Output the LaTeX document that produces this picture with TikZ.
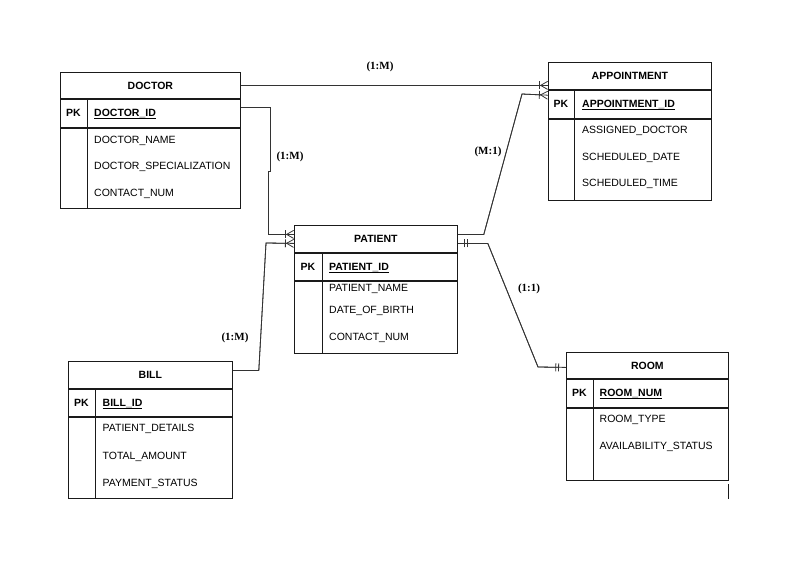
\documentclass[tikz,border=0pt]{standalone}
\usepackage{fontspec}
\setmainfont{Liberation Sans}
\newfontfamily\cardfont{Liberation Serif}
\usepackage{tikz}
\usetikzlibrary{arrows.meta,positioning}
\definecolor{ink}{HTML}{1A1A1A}
\definecolor{wire}{HTML}{333333}
\newcommand{\keyul}[1]{\underline{\smash{#1}}}
\tikzset{
  ent/.style     = {rectangle, draw=ink, line width=0.8pt, inner sep=0pt, anchor=north west,
                    font=\fontsize{10.5}{12}\selectfont\bfseries},
  rule/.style    = {draw=ink, line width=0.8pt},
  cell/.style    = {inner sep=0pt, text height=7.5pt, text depth=0pt},
  pkmark/.style  = {cell, font=\fontsize{10.5}{12}\selectfont\bfseries},
  keyname/.style = {cell, anchor=west, font=\fontsize{10.5}{12}\selectfont\bfseries},
  attr/.style    = {cell, anchor=west, font=\fontsize{10.5}{12}\selectfont},
  card/.style    = {inner sep=0pt, font=\cardfont\fontsize{11}{13}\selectfont\bfseries},
  link/.style    = {draw=wire, line width=0.8pt, postaction={draw, -, shorten <=0pt, shorten >=0pt}},
  many/.style    = {-{Bar[width=8pt] Straight Barb[reversed, length=7pt, width=8pt]}},
  one/.style     = {{Bar[width=8pt, sep=2pt] Bar[width=8pt, sep=2pt]}-{Bar[width=8pt, sep=2pt] Bar[width=8pt]},
                    shorten <=4pt, shorten >=7pt},
}
\begin{document}
\begin{tikzpicture}[x=1pt, y=-1pt]
  \useasboundingbox (0,0) rectangle (799,565);

  % DOCTOR
  \node[ent, minimum width=180pt, minimum height=26pt] (doctor) at (60,72) {DOCTOR};
  \node[ent, minimum width=180pt, minimum height=28pt] (doctorpk) at (doctor.south west) {};
  \node[ent, minimum width=180pt, minimum height=80pt] (doctorattr) at (doctorpk.south west) {};
  \draw[rule] ([xshift=27pt]doctorpk.north west) -- ([xshift=27pt]doctorattr.south west);
  \node[pkmark] at ([xshift=13.5pt]doctorpk.west) {PK};
  \node[keyname] (doctorid) at ([xshift=34pt]doctorpk.west) {\keyul{DOCTOR\_ID}};
  \node[attr] at (94,140) {DOCTOR\_NAME};
  \node[attr] at (94,166) {DOCTOR\_SPECIALIZATION};
  \node[attr] at (94,193) {CONTACT\_NUM};

  % APPOINTMENT
  \node[ent, minimum width=163pt, minimum height=27pt] (appt) at (548,62) {APPOINTMENT};
  \node[ent, minimum width=163pt, minimum height=28pt] (apptpk) at (appt.south west) {};
  \node[ent, minimum width=163pt, minimum height=81pt] (apptattr) at (apptpk.south west) {};
  \draw[rule] ([xshift=26pt]apptpk.north west) -- ([xshift=26pt]apptattr.south west);
  \node[pkmark] at ([xshift=13pt]apptpk.west) {PK};
  \node[keyname] (apptid) at ([xshift=34pt]apptpk.west) {\keyul{APPOINTMENT\_ID}};
  \node[attr] at (582,130) {ASSIGNED\_DOCTOR};
  \node[attr] at (582,157) {SCHEDULED\_DATE};
  \node[attr] at (582,183) {SCHEDULED\_TIME};

  % PATIENT
  \node[ent, minimum width=163pt, minimum height=27pt] (patient) at (294,225) {PATIENT};
  \node[ent, minimum width=163pt, minimum height=27pt] (patientpk) at (patient.south west) {};
  \node[ent, minimum width=163pt, minimum height=72pt] (patientattr) at (patientpk.south west) {};
  \draw[rule] ([xshift=28pt]patientpk.north west) -- ([xshift=28pt]patientattr.south west);
  \node[pkmark] at ([xshift=14pt]patientpk.west) {PK};
  \node[keyname] (patientid) at ([xshift=35pt]patientpk.west) {\keyul{PATIENT\_ID}};
  \node[attr] at (329,288) {PATIENT\_NAME};
  \node[attr] at (329,310) {DATE\_OF\_BIRTH};
  \node[attr] at (329,337) {CONTACT\_NUM};

  % BILL
  \node[ent, minimum width=164pt, minimum height=27pt] (bill) at (68,361) {BILL};
  \node[ent, minimum width=164pt, minimum height=27pt] (billpk) at (bill.south west) {};
  \node[ent, minimum width=164pt, minimum height=81pt] (billattr) at (billpk.south west) {};
  \draw[rule] ([xshift=27pt]billpk.north west) -- ([xshift=27pt]billattr.south west);
  \node[pkmark] at ([xshift=13.5pt]billpk.west) {PK};
  \node[keyname] (billid) at ([xshift=34.5pt]billpk.west) {\keyul{BILL\_ID}};
  \node[attr] at (102.5,428) {PATIENT\_DETAILS};
  \node[attr] at (102.5,456) {TOTAL\_AMOUNT};
  \node[attr] at (102.5,483) {PAYMENT\_STATUS};

  % ROOM
  \node[ent, minimum width=162pt, minimum height=26pt] (room) at (566,352) {ROOM};
  \node[ent, minimum width=162pt, minimum height=28pt] (roompk) at (room.south west) {};
  \node[ent, minimum width=162pt, minimum height=72pt] (roomattr) at (roompk.south west) {};
  \draw[rule] ([xshift=27pt]roompk.north west) -- ([xshift=27pt]roomattr.south west);
  \node[pkmark] at ([xshift=13.5pt]roompk.west) {PK};
  \node[keyname] (roomnum) at ([xshift=33.5pt]roompk.west) {\keyul{ROOM\_NUM}};
  \node[attr] at (599.5,419) {ROOM\_TYPE};
  \node[attr] at (599.5,446) {AVAILABILITY\_STATUS};
  \draw[rule] ([yshift=-4pt]roomattr.south east) -- ++(0,15);

  % relationships
  \draw[link, many] (doctor.east) -- (doctor.east -| appt.west);
  \draw[link, many] ([yshift=6pt]doctorpk.east) -- ++(30,0) -- ++(0,64) -- ++(-2,0) |- ([yshift=4.5pt]patient.west);
  \draw[link, many] ([yshift=4.5pt]patient.east) -- ++(26,0) -- (522,94) -- ([yshift=9pt]apptpk.west);
  \draw[link, many] ([yshift=4.5pt]bill.east) -- ++(26,0) -- (266,243) -- ([yshift=-4.5pt]patient.west);
  \draw[link, one] ([yshift=-4.5pt]patient.east) -- ++(30,0) -- (538,367) -- ([yshift=-2pt]room.west);

  \node[card] (docappt) at (380,67) {(1:M)};
  \node[card] (docpat) at (290,157) {(1:M)};
  \node[card] (patappt) at (488,152) {(M:1)};
  \node[card] (patroom) at (529,289) {(1:1)};
  \node[card] (billpat) at (235,338) {(1:M)};
\end{tikzpicture}
\end{document}
